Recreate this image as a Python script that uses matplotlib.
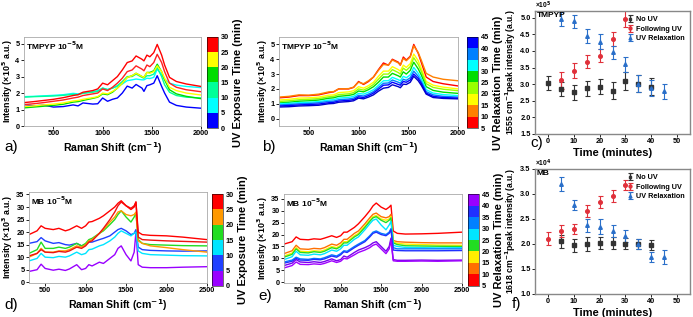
import numpy as np
import matplotlib
matplotlib.use("Agg")
import matplotlib.pyplot as plt
from matplotlib.colors import ListedColormap, BoundaryNorm
from matplotlib.cm import ScalarMappable

plt.rcParams["font.family"] = ["Liberation Sans", "DejaVu Sans"]
plt.rcParams["font.weight"] = "bold"
plt.rcParams["axes.labelweight"] = "bold"

# ---------------- data ----------------
# TMPYP spectra (x10^5 a.u.)
x_tm = [200, 300, 400, 500, 600, 700, 750, 800, 900, 950, 1000, 1050, 1100, 1150, 1200,
        1250, 1300, 1340, 1400, 1420, 1450, 1480, 1520, 1555, 1600, 1630, 1680, 1750, 1850, 2000]

tm_exp_times = [0, 5, 10, 15, 20, 25, 30]
tm_exp_colors = ["#0000ff", "#00ffff", "#00ff99", "#00dd00", "#ffff00", "#ff2020", "#ff0000"]
tm_exp_0 = [1.3, 1.22, 1.27, 1.15, 1.18, 1.28, 1.22, 1.4, 1.33, 1.35, 1.7, 1.5, 1.62, 1.7, 2.0,
            2.42, 2.3, 2.52, 2.3, 2.1, 2.45, 2.5, 2.6, 3.05, 2.4, 2.0, 1.45, 1.25, 1.15, 1.08]
tm_exp_5 = [1.78, 1.8, 1.83, 1.86, 1.9, 1.98, 1.95, 2.0, 2.08, 2.15, 2.3, 2.22, 2.3, 2.4, 2.55,
            2.75, 2.8, 2.85, 2.8, 2.8, 2.9, 2.88, 2.95, 3.45, 3.1, 2.85, 2.6, 2.48, 2.4, 2.33]
tm_exp_10 = [1.75, 1.78, 1.8, 1.82, 1.86, 1.92, 1.9, 1.98, 2.05, 2.1, 2.3, 2.2, 2.3, 2.45, 2.7,
             3.0, 3.0, 3.15, 2.95, 2.9, 3.05, 3.05, 3.15, 3.55, 3.0, 2.5, 2.05, 1.85, 1.75, 1.7]
tm_exp_15 = [1.1, 1.15, 1.2, 1.25, 1.32, 1.45, 1.48, 1.55, 1.68, 1.75, 1.95, 1.9, 2.05, 2.3, 2.6,
             2.95, 3.05, 3.2, 3.0, 2.95, 3.25, 3.25, 3.35, 3.75, 3.3, 2.8, 2.2, 1.95, 1.8, 1.66]
tm_exp_20 = [1.18, 1.22, 1.28, 1.33, 1.4, 1.52, 1.55, 1.62, 1.72, 1.78, 2.0, 1.95, 2.1, 2.3, 2.6,
             2.95, 3.05, 3.2, 3.0, 2.95, 3.25, 3.2, 3.3, 3.65, 3.3, 2.9, 2.35, 2.15, 2.0, 1.88]
tm_exp_25 = [1.3, 1.35, 1.42, 1.5, 1.58, 1.7, 1.75, 1.85, 1.95, 2.0, 2.25, 2.15, 2.35, 2.6, 2.9,
             3.3, 3.4, 3.65, 3.45, 3.35, 3.7, 3.6, 3.85, 4.35, 3.85, 3.3, 2.6, 2.35, 2.2, 2.08]
tm_exp_30 = [1.42, 1.48, 1.55, 1.62, 1.72, 1.85, 1.9, 2.05, 2.15, 2.25, 2.6, 2.5, 2.75, 3.0, 3.4,
             3.85, 3.95, 4.25, 4.05, 3.95, 4.3, 4.2, 4.45, 4.95, 4.3, 3.7, 2.95, 2.7, 2.55, 2.4]
tm_exp = [tm_exp_0, tm_exp_5, tm_exp_10, tm_exp_15, tm_exp_20, tm_exp_25, tm_exp_30]

tm_rel_times = [5, 10, 15, 20, 25, 30, 35, 40, 45]
tm_rel_colors = ["#ff0000", "#ff8000", "#ffff00", "#99ff00", "#00dd00", "#00ffff", "#0080ff", "#0000ff", "#0000cc"]
tm_rel_5 = [1.4, 1.45, 1.55, 1.55, 1.6, 1.75, 1.8, 2.0, 2.0, 2.1, 2.5, 2.3, 2.5, 2.8, 3.3,
            3.75, 3.6, 4.0, 3.8, 3.6, 4.15, 3.95, 4.2, 5.0, 4.4, 3.8, 2.8, 2.5, 2.35, 2.2]
tm_rel_10 = [1.45, 1.5, 1.6, 1.58, 1.65, 1.8, 1.82, 2.0, 2.02, 2.12, 2.45, 2.35, 2.55, 2.8, 3.25,
             3.65, 3.6, 3.95, 3.75, 3.6, 4.05, 3.9, 4.15, 4.9, 4.45, 3.95, 3.05, 2.8, 2.65, 2.55]
tm_rel_15 = [1.25, 1.3, 1.38, 1.4, 1.45, 1.58, 1.6, 1.75, 1.8, 1.88, 2.15, 2.05, 2.22, 2.45, 2.85,
             3.2, 3.2, 3.5, 3.3, 3.2, 3.6, 3.45, 3.7, 4.35, 3.9, 3.4, 2.5, 2.25, 2.12, 2.0]
tm_rel_20 = [1.15, 1.2, 1.27, 1.3, 1.35, 1.47, 1.5, 1.62, 1.67, 1.75, 2.0, 1.92, 2.08, 2.3, 2.65,
             3.0, 3.0, 3.3, 3.1, 3.0, 3.4, 3.25, 3.5, 4.1, 3.65, 3.2, 2.35, 2.1, 1.98, 1.88]
tm_rel_25 = [1.05, 1.1, 1.17, 1.2, 1.25, 1.37, 1.4, 1.5, 1.56, 1.63, 1.86, 1.8, 1.95, 2.15, 2.45,
             2.8, 2.8, 3.05, 2.88, 2.8, 3.15, 3.0, 3.25, 3.8, 3.35, 2.95, 2.15, 1.9, 1.78, 1.7]
tm_rel_30 = [1.0, 1.03, 1.08, 1.1, 1.15, 1.25, 1.28, 1.38, 1.43, 1.5, 1.7, 1.65, 1.78, 1.95, 2.25,
             2.55, 2.55, 2.78, 2.62, 2.55, 2.85, 2.75, 2.95, 3.45, 3.05, 2.7, 1.95, 1.72, 1.62, 1.55]
tm_rel_35 = [0.92, 0.95, 1.0, 1.02, 1.07, 1.16, 1.18, 1.27, 1.32, 1.38, 1.57, 1.52, 1.65, 1.82, 2.1,
             2.38, 2.4, 2.6, 2.45, 2.38, 2.65, 2.58, 2.75, 3.2, 2.85, 2.5, 1.82, 1.6, 1.5, 1.45]
tm_rel_40 = [0.85, 0.88, 0.92, 0.95, 0.98, 1.07, 1.1, 1.18, 1.23, 1.28, 1.47, 1.42, 1.55, 1.72, 1.98,
             2.25, 2.27, 2.45, 2.3, 2.25, 2.5, 2.45, 2.6, 3.0, 2.7, 2.38, 1.72, 1.5, 1.42, 1.38]
tm_rel_45 = [0.78, 0.8, 0.85, 0.87, 0.9, 1.0, 1.02, 1.1, 1.15, 1.2, 1.38, 1.33, 1.45, 1.6, 1.85,
             2.05, 2.1, 2.28, 2.15, 2.08, 2.32, 2.3, 2.45, 2.85, 2.55, 2.25, 1.65, 1.42, 1.36, 1.33]
tm_rel = [tm_rel_5, tm_rel_10, tm_rel_15, tm_rel_20, tm_rel_25, tm_rel_30, tm_rel_35, tm_rel_40, tm_rel_45]

# MB spectra (x10^3 a.u.)
x_mb = [300, 400, 450, 500, 600, 670, 750, 800, 890, 950, 1000, 1040, 1080, 1170, 1220,
        1300, 1360, 1400, 1440, 1500, 1560, 1600, 1622, 1650, 1700, 1800, 2000, 2200, 2500]

mb_exp_times = [0, 5, 10, 15, 20, 25, 30]
mb_exp_colors = ["#9900ff", "#2040ff", "#00e5ff", "#22dd22", "#ff9900", "#ee1111", "#ff0000"]
mb_exp_0 = [4.3, 5.0, 7.2, 5.5, 4.8, 5.2, 4.7, 5.3, 7.0, 5.0, 5.5, 7.0, 6.5, 8.0, 7.5,
            9.5, 11.0, 13.5, 14.5, 11.0, 8.5, 12.0, 20.0, 7.0, 6.0, 5.8, 5.8, 6.0, 6.2]
mb_exp_5 = [15.5, 16.2, 17.8, 16.5, 15.5, 15.8, 15.0, 14.8, 15.5, 14.5, 15.0, 16.0, 16.0, 17.0, 17.5,
            18.5, 20.0, 21.0, 21.5, 20.5, 19.0, 19.5, 21.0, 14.0, 13.0, 12.7, 12.5, 12.4, 12.5]
mb_exp_10 = [8.5, 9.5, 11.5, 10.0, 9.8, 10.3, 10.0, 10.5, 12.0, 11.0, 11.5, 13.0, 13.2, 14.5, 15.0,
             16.5, 18.0, 19.5, 20.5, 19.5, 18.5, 19.5, 20.0, 12.5, 11.5, 11.0, 10.8, 10.6, 10.5]
mb_exp_15 = [11.5, 13.0, 16.0, 13.5, 13.5, 14.0, 13.5, 14.0, 15.5, 14.5, 15.5, 17.0, 17.5, 19.5, 20.5,
             23.0, 25.0, 27.0, 28.5, 26.0, 24.0, 26.0, 27.5, 17.0, 15.5, 15.0, 14.8, 14.6, 14.5]
mb_exp_20 = [10.0, 11.5, 13.5, 12.0, 12.0, 12.5, 12.5, 13.0, 14.5, 14.0, 15.0, 16.5, 17.0, 19.5, 21.0,
             24.0, 26.0, 28.0, 28.5, 27.0, 26.5, 27.0, 28.0, 16.5, 15.5, 14.5, 13.8, 13.0, 12.0]
mb_exp_25 = [10.5, 11.5, 13.0, 12.0, 11.8, 12.3, 12.0, 12.5, 14.0, 13.5, 14.5, 16.0, 16.5, 19.5, 21.5,
             25.0, 28.0, 30.5, 32.0, 30.5, 29.5, 30.5, 32.0, 18.0, 17.0, 16.8, 16.5, 16.3, 16.0]
mb_exp_30 = [19.0, 20.5, 22.5, 21.5, 21.0, 21.5, 20.5, 21.0, 22.5, 21.5, 22.5, 24.0, 24.2, 25.5, 26.5,
             28.5, 30.0, 31.5, 32.5, 30.5, 29.0, 30.0, 32.0, 20.0, 19.0, 18.7, 18.5, 18.0, 17.0]
mb_exp = [mb_exp_0, mb_exp_5, mb_exp_10, mb_exp_15, mb_exp_20, mb_exp_25, mb_exp_30]

mb_rel_times = [5, 10, 15, 20, 25, 30, 35, 40, 45]
mb_rel_colors = ["#ff0000", "#ff7000", "#ffee00", "#22dd22", "#00e5ff", "#0080ff", "#2030ff", "#7700ee", "#a000ff"]
mb_rel_5 = [16.0, 17.0, 19.0, 18.0, 17.8, 18.2, 18.0, 18.5, 19.5, 18.8, 19.5, 21.0, 21.0, 23.0, 24.5,
            27.5, 30.0, 32.0, 33.2, 31.5, 30.5, 31.5, 32.3, 21.5, 20.5, 20.2, 20.3, 20.5, 21.0]
mb_rel_10 = [12.0, 13.2, 15.5, 14.0, 13.8, 14.2, 14.0, 14.5, 16.0, 15.5, 16.5, 18.0, 18.0, 20.5, 21.5,
             24.5, 27.0, 28.5, 29.0, 27.5, 27.0, 27.5, 28.5, 17.5, 17.0, 16.8, 16.6, 16.5, 16.5]
mb_rel_15 = [11.0, 12.2, 14.5, 13.0, 12.8, 13.2, 13.0, 13.5, 15.0, 14.5, 15.5, 17.0, 17.0, 19.5, 20.5,
             23.5, 26.0, 27.5, 28.0, 26.5, 26.0, 26.5, 27.5, 17.0, 16.3, 16.0, 15.8, 15.6, 15.5]
mb_rel_20 = [10.5, 11.7, 14.0, 12.5, 12.3, 12.8, 12.5, 13.0, 14.5, 14.0, 15.0, 16.5, 16.5, 19.0, 20.0,
             23.0, 25.5, 27.0, 27.5, 26.0, 25.0, 26.0, 27.0, 16.5, 15.8, 15.3, 15.2, 15.1, 15.0]
mb_rel_25 = [9.5, 10.7, 13.0, 11.5, 11.3, 11.8, 11.5, 12.0, 13.5, 13.0, 14.0, 15.5, 15.5, 18.0, 19.0,
             22.0, 24.5, 26.0, 26.5, 24.0, 22.0, 24.0, 25.5, 15.5, 15.0, 14.6, 14.5, 14.4, 14.5]
mb_rel_30 = [8.5, 9.3, 10.5, 9.8, 9.6, 10.0, 9.8, 10.3, 11.5, 11.0, 12.0, 13.2, 13.0, 15.0, 16.0,
             17.5, 19.5, 21.0, 21.5, 20.5, 20.0, 21.0, 22.5, 14.5, 14.0, 14.0, 14.0, 14.0, 14.0]
mb_rel_35 = [8.0, 8.8, 10.0, 9.3, 9.2, 9.6, 9.4, 9.8, 11.0, 10.5, 11.5, 12.8, 12.5, 14.5, 15.5,
             17.0, 19.0, 20.5, 21.0, 20.0, 19.5, 20.5, 22.0, 13.5, 13.3, 13.2, 13.2, 13.2, 13.3]
mb_rel_40 = [7.0, 8.0, 9.5, 8.5, 8.3, 8.6, 8.3, 8.7, 9.8, 9.0, 9.5, 11.0, 10.5, 12.5, 13.5,
             14.5, 15.5, 16.5, 17.0, 15.0, 13.0, 15.0, 18.5, 9.5, 9.2, 9.2, 9.3, 9.2, 9.3]
mb_rel_45 = [6.0, 7.0, 8.5, 7.5, 7.4, 7.7, 7.5, 7.9, 9.0, 8.3, 8.8, 10.0, 9.8, 11.5, 12.5,
             13.5, 14.5, 15.5, 16.0, 14.0, 12.0, 14.0, 17.5, 9.0, 8.8, 8.8, 8.9, 8.8, 9.0]
mb_rel = [mb_rel_5, mb_rel_10, mb_rel_15, mb_rel_20, mb_rel_25, mb_rel_30, mb_rel_35, mb_rel_40, mb_rel_45]

# colorbar bins
cb_a_colors = ["#0000ff", "#00ffff", "#00ff99", "#00dd00", "#ffff00", "#ff0000"]
cb_b_colors = ["#ff0000", "#ff8000", "#ffff00", "#99ff00", "#00dd00", "#00ffff", "#0080ff", "#0000ff"]
cb_d_colors = ["#9900ff", "#2040ff", "#00e5ff", "#22dd22", "#ff9900", "#ff0000"]
cb_e_colors = ["#ff0000", "#ff7000", "#ffee00", "#22dd22", "#00e5ff", "#0080ff", "#2030ff", "#9900ff"]

# peak intensity vs time
t_noUV_c = [0, 5, 10, 15, 20, 25, 30, 35, 40]
noUV_c = [3.04, 2.85, 2.75, 2.87, 2.92, 2.80, 3.09, 3.01, 2.92]
noUV_c_err = [0.21, 0.21, 0.22, 0.22, 0.23, 0.25, 0.28, 0.25, 0.25]
t_fol_c = [5, 10, 15, 20, 25, 30]
fol_c = [3.11, 3.41, 3.68, 3.86, 4.36, 4.97]
fol_c_err = [0.25, 0.22, 0.2, 0.2, 0.22, 0.25]
t_rel_c = [5, 10, 15, 20, 25, 30, 35, 40, 45]
rel_c = [4.96, 4.89, 4.45, 4.28, 3.96, 3.6, 3.01, 2.88, 2.78]
rel_c_err = [0.2, 0.2, 0.2, 0.23, 0.2, 0.22, 0.25, 0.25, 0.22]

t_noUV_f = [5, 10, 15, 20, 25, 30, 35, 40]
noUV_f = [2.05, 1.97, 2.0, 2.01, 2.01, 2.0, 1.99, 1.98]
noUV_f_err = [0.13, 0.13, 0.14, 0.12, 0.12, 0.11, 0.1, 0.1]
t_fol_f = [0, 5, 10, 15, 20, 25, 30]
fol_f = [2.1, 2.26, 2.3, 2.65, 2.83, 2.95, 3.17]
fol_f_err = [0.13, 0.12, 0.1, 0.12, 0.12, 0.12, 0.1]
t_rel_f = [5, 10, 15, 20, 25, 30, 35, 40, 45]
rel_f = [3.2, 2.77, 2.37, 2.34, 2.25, 2.15, 2.0, 1.73, 1.73]
rel_f_err = [0.14, 0.1, 0.13, 0.15, 0.12, 0.12, 0.1, 0.1, 0.14]

# ---------------- plotting ----------------
fig = plt.figure(figsize=(6.93, 3.17), dpi=100)
TICK = 5.3
LAB = 7.6


def spectra_panel(rect, x, curves, colors, xlim, ylim, yticks, xticks, label, ylab):
    ax = fig.add_axes(rect)
    for y, c in zip(curves, colors):
        ax.plot(x, y, color=c, lw=1.0)
    ax.set_xlim(*xlim)
    ax.set_ylim(*ylim)
    ax.set_xticks(xticks)
    ax.set_yticks(yticks)
    ax.tick_params(labelsize=TICK, length=2, width=0.6, pad=1.2)
    for s in ax.spines.values():
        s.set_color("#aaaaaa")
        s.set_linewidth(0.6)
    ax.set_xlabel("Raman Shift (cm$^{-1}$)", fontsize=LAB, labelpad=2)
    ax.set_ylabel(ylab, fontsize=6.4, labelpad=0.6)
    ax.text(0.01, 0.97, label, transform=ax.transAxes, ha="left", va="top", fontsize=6)
    return ax


def colorbar(rect, colors, lo, hi, label):
    cax = fig.add_axes(rect)
    bounds = np.arange(lo, hi + 1, 5)
    cmap = ListedColormap(colors)
    norm = BoundaryNorm(bounds, cmap.N)
    cb = fig.colorbar(ScalarMappable(norm=norm, cmap=cmap), cax=cax, ticks=bounds)
    cb.outline.set_linewidth(0.4)
    cax.tick_params(labelsize=TICK, length=0, pad=2)
    cb.set_label(label, fontsize=8, labelpad=2.5)
    return cb


ax_a = spectra_panel([0.0346, 0.6025, 0.2554, 0.2808], x_tm, tm_exp, tm_exp_colors,
                     (200, 2000), (0, 5.4), range(6), [500, 1000, 1500, 2000],
                     "TMPYP 10$^{-5}$M", "Intensity (\u00d710$^5$ a.u.)")
colorbar([0.2987, 0.5962, 0.0159, 0.2871], cb_a_colors, 0, 30, "UV Exposure Time (min)")

ax_b = spectra_panel([0.4026, 0.6025, 0.2583, 0.2808], x_tm, tm_rel, tm_rel_colors,
                     (200, 2000), (-0.5, 5.5), range(6), [500, 1000, 1500, 2000],
                     "TMPYP 10$^{-5}$M", "Intensity (\u00d710$^5$ a.u.)")
colorbar([0.6739, 0.5962, 0.0159, 0.2871], cb_b_colors, 5, 45, "UV Relaxation Time (min)")

ax_d = spectra_panel([0.0418, 0.1073, 0.2569, 0.2871], x_mb, mb_exp, mb_exp_colors,
                     (300, 2500), (-0.3, 36), range(0, 36, 5), [500, 1000, 1500, 2000, 2500],
                     "MB 10$^{-5}$M", "Intensity (\u00d710$^3$ a.u.)")
colorbar([0.3059, 0.0978, 0.0159, 0.2902], cb_d_colors, 0, 30, "UV Exposure Time (min)")

ax_e = spectra_panel([0.4098, 0.1073, 0.2569, 0.2808], x_mb, mb_rel, mb_rel_colors,
                     (300, 2500), (-0.3, 37), range(0, 36, 5), [500, 1000, 1500, 2000, 2500],
                     "MB 10$^{-5}$M", "Intensity (\u00d710$^3$ a.u.)")
colorbar([0.6753, 0.0978, 0.0159, 0.2902], cb_e_colors, 5, 45, "UV Relaxation Time (min)")


def time_panel(rect, series, ylim, yticks, label, ylab, mult):
    ax = fig.add_axes(rect)
    for t, v, e, c, m, name in series:
        ax.errorbar(t, v, yerr=e, fmt=m, color=c, ms=2.6, elinewidth=0.8, capsize=1.8,
                    capthick=0.8, label=name)
    ax.set_xlim(-5, 55)
    ax.set_ylim(*ylim)
    ax.set_xticks(range(0, 51, 10))
    ax.set_yticks(yticks)
    ax.yaxis.set_major_formatter(matplotlib.ticker.FormatStrFormatter("%.1f"))
    ax.tick_params(labelsize=TICK, length=2, width=0.6, pad=1.2)
    for s in ax.spines.values():
        s.set_color("#888888")
        s.set_linewidth(1.0)
    ax.set_xlabel("Time (minutes)", fontsize=8, labelpad=1.5)
    ax.set_ylabel(ylab, fontsize=6.2, labelpad=1.5)
    ax.text(0.01, 0.99, label, transform=ax.transAxes, ha="left", va="top", fontsize=6)
    ax.text(0.0, 1.0, mult, transform=ax.transAxes, ha="left", va="bottom", fontsize=4.8)
    leg = ax.legend(loc="upper right", bbox_to_anchor=(1.0, 1.0), frameon=False, fontsize=5.2,
                    handlelength=0.7, handletextpad=0.5, labelspacing=0.35, borderaxespad=0.3,
                    markerscale=0.8)
    for h in leg.legend_handles:
        h.set_linestyle("")
    return ax


ax_c = time_panel([0.772, 0.5773, 0.2237, 0.3880],
                  [(t_noUV_c, noUV_c, noUV_c_err, "#333333", "s", "No UV"),
                   (t_fol_c, fol_c, fol_c_err, "#e0303a", "o", "Following UV"),
                   (t_rel_c, rel_c, rel_c_err, "#2a6fc9", "^", "UV Relaxation")],
                  (1.5, 5.2), np.arange(1.5, 5.01, 0.5), "TMPYP",
                  "1555 cm$^{-1}$peak intensity (a.u.)", "\u00d710$^5$")

ax_f = time_panel([0.772, 0.0726, 0.2237, 0.3943],
                  [(t_noUV_f, noUV_f, noUV_f_err, "#333333", "s", "No UV"),
                   (t_fol_f, fol_f, fol_f_err, "#e0303a", "o", "Following UV"),
                   (t_rel_f, rel_f, rel_f_err, "#2a6fc9", "^", "UV Relaxation")],
                  (1.0, 3.5), np.arange(1.0, 3.51, 0.5), "MB",
                  "1618 cm$^{-1}$peak intensity (a.u.)", "\u00d710$^4$")

# panel letters
for x, y, s in [(4, 147, "a)"), (262, 147, "b)"), (530, 143, "c)"),
                (4, 305, "d)"), (258, 296, "e)"), (512, 304, "f)")]:
    fig.text(x / 693, 1 - y / 317, s, fontsize=11, fontweight="normal",
             ha="left", va="center")

fig.savefig("out.png", dpi=100)
